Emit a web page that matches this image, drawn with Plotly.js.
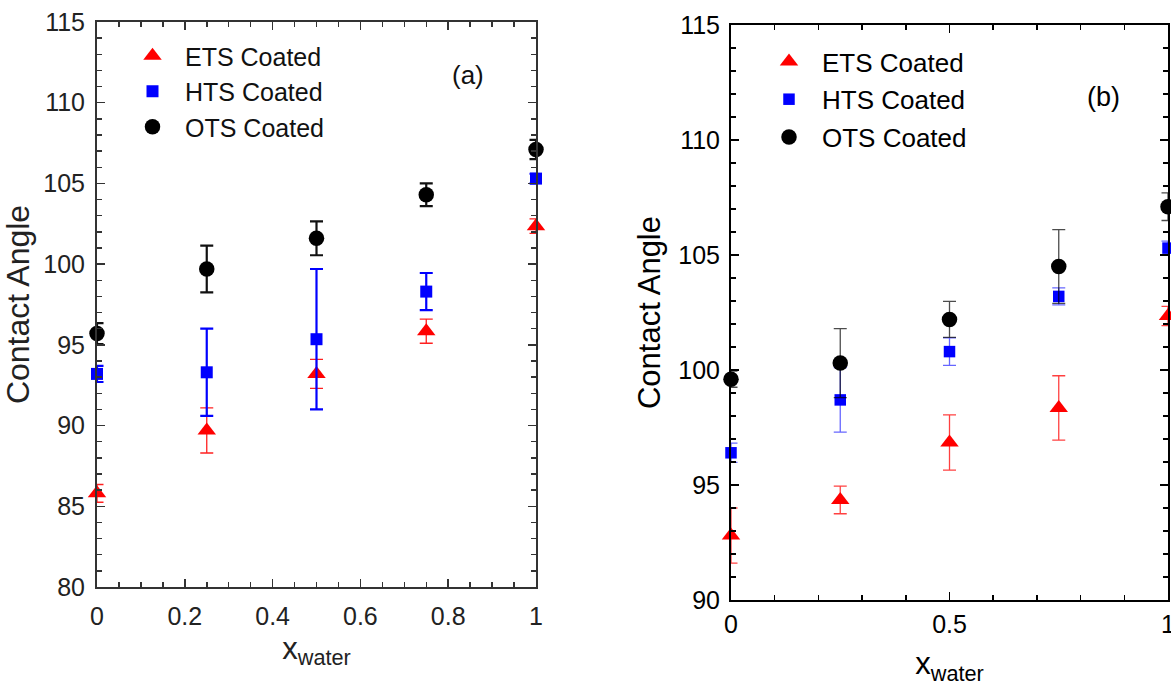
<!DOCTYPE html>
<html><head><meta charset="utf-8">
<script src="https://cdn.plot.ly/plotly-3.0.1.min.js"></script>
<style>html,body{margin:0;padding:0;background:#fff}</style>
</head><body><div id="chart" style="width:1171px;height:686px"></div>
<script>
// x values (mole fraction of water)
const xWater = [0, 0.25, 0.5, 0.75, 1];
// Panel (a)
const a_ETS = [85.8, 89.7, 93.2, 95.85, 102.35];
const a_ETS_err = [0.55, 1.4, 0.9, 0.75, 0.45];
const a_HTS = [93.2, 93.3, 95.35, 98.3, 105.3];
const a_HTS_err = [0.5, 2.7, 4.35, 1.15, 0.3];
const a_OTS = [95.7, 99.7, 101.6, 104.3, 107.1];
const a_OTS_err = [0.65, 1.45, 1.05, 0.7, 0.6];
// Panel (b)
const b_ETS = [92.8, 94.35, 96.85, 98.35, 102.35];
const b_ETS_err = [1.2, 0.6, 1.2, 1.4, 0.42];
const b_HTS = [96.4, 98.7, 100.8, 103.2, 105.3];
const b_HTS_err = [0.42, 1.4, 0.6, 0.37, 0.3];
const b_OTS = [99.6, 100.3, 102.2, 104.5, 107.1];
const b_OTS_err = [0.35, 1.5, 0.78, 1.6, 0.6];
const seriesNames = ['ETS Coated', 'HTS Coated', 'OTS Coated'];
const panelLabels = ['(a)', '(b)'];

const W = 1171, H = 686;
const font = 'Liberation Sans, Arial, sans-serif';

function tr(name, y, err, color, symbol, size, xa, ya, leg, ebw, ebc) {
  return {
    x: xWater, y: y, type: 'scatter', mode: 'markers', name: name,
    xaxis: xa, yaxis: ya, legend: leg, legendgroup: leg + name, cliponaxis: false,
    marker: {color: color, symbol: symbol, size: size, line: {width: 0}},
    error_y: {type: 'data', array: err, visible: true, color: ebc, thickness: ebw, width: 6.5}
  };
}

const data = [
  tr(seriesNames[0], a_ETS, a_ETS_err, '#ff0000', 'triangle-up', 16, 'x', 'y', 'legend', 1.3, '#ff2020'),
  tr(seriesNames[1], a_HTS, a_HTS_err, '#0000ff', 'square', 12, 'x', 'y', 'legend', 2.2, '#0000ff'),
  tr(seriesNames[2], a_OTS, a_OTS_err, '#000000', 'circle', 15.5, 'x', 'y', 'legend', 2.2, '#111111'),
  tr(seriesNames[0], b_ETS, b_ETS_err, '#ff0000', 'triangle-up', 16, 'x2', 'y2', 'legend2', 1.3, 'rgba(255,0,0,0.75)'),
  tr(seriesNames[1], b_HTS, b_HTS_err, '#0000ff', 'square', 11.5, 'x2', 'y2', 'legend2', 1.3, 'rgba(0,0,255,0.6)'),
  tr(seriesNames[2], b_OTS, b_OTS_err, '#000000', 'circle', 15.5, 'x2', 'y2', 'legend2', 1.3, 'rgba(0,0,0,0.7)')
];

function ax(o) {
  return Object.assign({
    showgrid: false, zeroline: false, showline: true, mirror: 'allticks',
    ticks: 'inside', ticklen: 8, tickwidth: 1.5, fixedrange: true, ticklabeloverflow: 'allow'
  }, o);
}

const pa = {l: 97, r: 536, t: 22, b: 587};
const pb = {l: 731, r: 1168, t: 25, b: 600};

const layout = {
  width: W, height: H, margin: {l: 0, r: 0, t: 0, b: 0},
  paper_bgcolor: '#fff', plot_bgcolor: '#fff', showlegend: true,
  font: {family: font, color: '#222'},
  xaxis: ax({domain: [pa.l / W, pa.r / W], range: [0, 1], dtick: 0.2, tick0: 0,
    linecolor: '#333', linewidth: 2, tickcolor: '#333', anchor: 'y',
    tickfont: {size: 25, color: '#222'}, ticklabelstandoff: 6,
    minor: {dtick: 0.05, ticks: 'inside', ticklen: 5, tickcolor: '#333', tickwidth: 1.5},
    title: {text: 'x<sub>water</sub>', font: {size: 31, color: '#222'}, standoff: 8}}),
  yaxis: ax({domain: [1 - pa.b / H, 1 - pa.t / H], range: [80, 115], dtick: 5, tick0: 80,
    linecolor: '#333', linewidth: 2, tickcolor: '#333', anchor: 'x',
    tickfont: {size: 25, color: '#222'}, ticklabelstandoff: 5,
    minor: {dtick: 1, ticks: 'inside', ticklen: 5, tickcolor: '#333', tickwidth: 1.5},
    title: {text: 'Contact Angle', font: {size: 32, color: '#222'}, standoff: 8}}),
  xaxis2: ax({domain: [pb.l / W, pb.r / W], range: [0, 1], dtick: 0.5, tick0: 0,
    linecolor: '#000', linewidth: 2, tickcolor: '#000', anchor: 'y2',
    tickfont: {size: 25, color: '#000'}, ticklabelstandoff: 1,
    minor: {dtick: 0.1, ticks: 'inside', ticklen: 5, tickcolor: '#000', tickwidth: 1.5},
    title: {text: 'x<sub>water</sub>', font: {size: 31, color: '#000'}, standoff: 16}}),
  yaxis2: ax({domain: [1 - pb.b / H, 1 - pb.t / H], range: [90, 115], dtick: 5, tick0: 90,
    linecolor: '#000', linewidth: 2, tickcolor: '#000', anchor: 'x2',
    tickfont: {size: 25, color: '#000'}, ticklabelstandoff: 4,
    minor: {dtick: 1, ticks: 'inside', ticklen: 5, tickcolor: '#000', tickwidth: 1.5},
    title: {text: 'Contact Angle', font: {size: 31, color: '#000'}, standoff: 8}}),
  legend: {x: 120 / W, y: 1 - 33 / H, xanchor: 'left', yanchor: 'top', bgcolor: 'rgba(0,0,0,0)',
    font: {size: 25, color: '#111'}, traceorder: 'grouped', tracegroupgap: 0, itemwidth: 55},
  legend2: {x: 756 / W, y: 1 - 38 / H, xanchor: 'left', yanchor: 'top', bgcolor: 'rgba(0,0,0,0)',
    font: {size: 26, color: '#000'}, traceorder: 'grouped', tracegroupgap: 1, itemwidth: 56},
  annotations: [
    {text: panelLabels[0], x: 468 / W, y: 1 - 75 / H, xref: 'paper', yref: 'paper', showarrow: false,
      font: {size: 26, color: '#111'}, xanchor: 'center', yanchor: 'middle'},
    {text: panelLabels[1], x: 1103 / W, y: 1 - 97 / H, xref: 'paper', yref: 'paper', showarrow: false,
      font: {size: 27, color: '#000'}, xanchor: 'center', yanchor: 'middle'}
  ]
};

Plotly.newPlot('chart', data, layout, {displayModeBar: false, staticPlot: true});
</script></body></html>
